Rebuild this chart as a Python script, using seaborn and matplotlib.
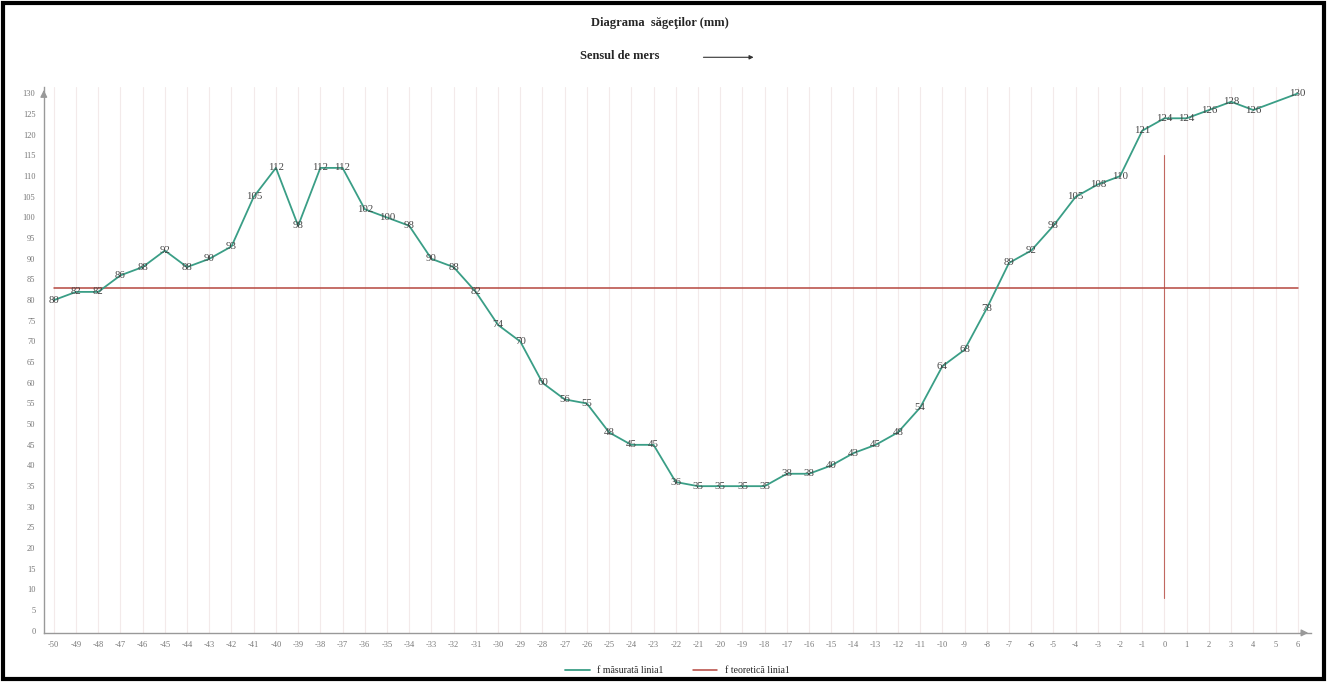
import numpy as np
import pandas as pd
import matplotlib
matplotlib.use("Agg")
import matplotlib.pyplot as plt
from matplotlib.patches import Rectangle
import seaborn as sns

# ------------------------------------------
# DATA
# ------------------------------------------
positions = [-50, -49, -48, -47, -46, -45, -44, -43, -42, -41, -40, -39, -38, -37,
             -36, -35, -34, -33, -32, -31, -30, -29, -28, -27, -26, -25, -24, -23,
             -22, -21, -20, -19, -18, -17, -16, -15, -14, -13, -12, -11, -10, -9,
             -8, -7, -6, -5, -4, -3, -2, -1, 0, 1, 2, 3, 4, 6]
measured = [80, 82, 82, 86, 88, 92, 88, 90, 93, 105, 112, 98, 112, 112,
            102, 100, 98, 90, 88, 82, 74, 70, 60, 56, 55, 48, 45, 45,
            36, 35, 35, 35, 35, 38, 38, 40, 43, 45, 48, 54, 64, 68,
            78, 89, 92, 98, 105, 108, 110, 121, 124, 124, 126, 128, 126, 130]
tick_positions = list(range(-50, 7))
y_ticks = list(range(0, 131, 5))
theoretical_level = 83
theoretical_x = [-50, 6]
marker_x = 0
marker_y = [8, 115]

title = "Diagrama  săgeţilor (mm)"
subtitle = "Sensul de mers"
label_measured = "f măsurată linia1"
label_theoretical = "f teoretică linia1"

green = "#3a9e86"
red = "#b5473f"

df = pd.DataFrame({"pos": positions, "val": measured})

# ------------------------------------------
# PLOT
# ------------------------------------------
sns.set_style("white")
plt.rcParams["font.family"] = ["Liberation Serif", "DejaVu Serif"]

fig = plt.figure(figsize=(13.27, 6.82), dpi=100)
ax = fig.add_axes([0.033, 0.072, 0.955, 0.80])

# light vertical guide lines at each position
for p in tick_positions:
    ax.axvline(p, color="#f3eaea", lw=0.8, zorder=0)

sns.lineplot(data=df, x="pos", y="val", ax=ax, color=green, lw=1.3,
             label=label_measured, zorder=3)
ax.plot(theoretical_x, [theoretical_level, theoretical_level], color=red, lw=1.1,
        label=label_theoretical, zorder=2)
ax.plot([marker_x, marker_x], marker_y, color=red, lw=0.8, alpha=0.8, zorder=2)

for xv, yv in zip(positions, measured):
    ax.text(xv, yv, str(yv), ha="center", va="center", fontsize=7.8,
            color="#444444", zorder=4)

ax.set_xlim(-50.45, 6.6)
ax.set_ylim(-0.5, 131.5)
ax.set_xticks(tick_positions)
ax.set_xticklabels([str(t) for t in tick_positions])
ax.set_yticks(y_ticks)
ax.tick_params(axis="both", labelsize=6, colors="#777777", length=0, pad=6)
ax.set_xlabel("")
ax.set_ylabel("")

for s in ["top", "right"]:
    ax.spines[s].set_visible(False)
for s in ["left", "bottom"]:
    ax.spines[s].set_color("#999999")
    ax.spines[s].set_linewidth(1.0)

# axis arrows
ax.annotate("", xy=(1.0, 0), xytext=(0.99, 0), xycoords="axes fraction",
            arrowprops=dict(arrowstyle="-|>", color="#999999", lw=1))
ax.annotate("", xy=(0, 1.0), xytext=(0, 0.985), xycoords="axes fraction",
            arrowprops=dict(arrowstyle="-|>", color="#999999", lw=1))

ax.legend(loc="upper center", bbox_to_anchor=(0.5, -0.045), ncol=2, frameon=False,
          fontsize=7, handlelength=2.5, columnspacing=3)

# title block
fig.text(0.497, 0.966, title, ha="center", va="center", fontsize=9,
         fontweight="bold")
fig.text(0.437, 0.918, subtitle, ha="left", va="center", fontsize=9,
         fontweight="bold")
fig.add_artist(matplotlib.patches.FancyArrowPatch(
    (0.528, 0.916), (0.570, 0.916), transform=fig.transFigure,
    arrowstyle="-|>", mutation_scale=6, color="#333333", lw=0.8))

# black frame round the figure
fig.add_artist(Rectangle((0.002, 0.004), 0.996, 0.992, transform=fig.transFigure,
                         fill=False, edgecolor="black", lw=3))

fig.savefig("out.png", dpi=100)
